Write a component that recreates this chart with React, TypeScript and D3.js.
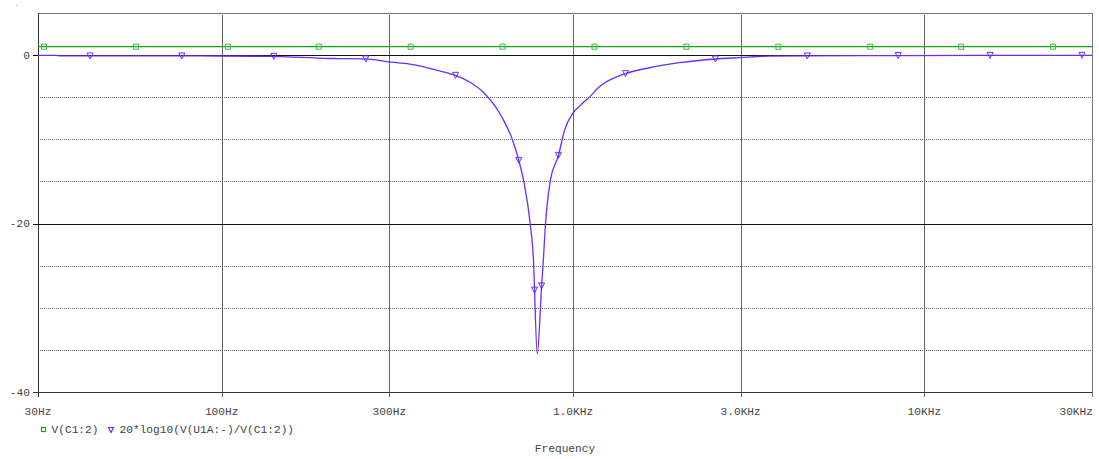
import React from "react";
import * as d3 from "d3";

const xTickValues = [30, 100, 300, 1000, 3000, 10000, 30000];
const xTickLabels = ["30Hz", "100Hz", "300Hz", "1.0KHz", "3.0KHz", "10KHz", "30KHz"];
const yTickValues = [0, -20, -40];
const yTickLabels = ["0", "-20", "-40"];
const yDottedGrid = [-5, -10, -15, -25, -30, -35];

// V(C1:2) — flat ~1V
const greenFreq = [30, 30000];
const greenVal = [1, 1];
const greenMarkerFreq = [31.2, 57, 104.1, 188.9, 345, 630, 1151, 2102, 3840, 7012, 12724, 23239];

// 20*log10(V(U1A:-)/V(C1:2))
const notchFreq = [30, 33.5, 35, 86.6, 137, 203, 257, 299, 343, 417, 463, 508, 560, 630, 673, 701, 724, 755, 773, 777, 791, 814, 821, 835, 861, 909, 946, 999, 1050, 1114, 1189, 1410, 1650, 2008, 2542, 2974, 3618, 4644, 8478, 15000, 30000];
const notchDb = [-0.02, -0.04, -0.1, -0.1, -0.15, -0.4, -0.45, -0.8, -1.07, -1.86, -2.4, -3.2, -4.56, -7.5, -10.1, -12.5, -15, -20, -25.1, -27.9, -35.5, -27.4, -25.1, -20, -15, -11.9, -8.9, -6.9, -5.95, -4.96, -3.76, -2.2, -1.5, -0.9, -0.46, -0.3, -0.12, -0.1, -0.05, -0.03, -0.02];
const notchMarkerFreq = [42.2, 77, 140.7, 257, 463, 701, 777, 814, 909, 1410, 2542, 4644, 8423, 15386, 28095];
const notchMarkerDb = [-0.1, -0.1, -0.15, -0.45, -2.4, -12.5, -27.9, -27.4, -11.9, -2.2, -0.46, -0.1, -0.05, -0.03, -0.02];

const W = 1099;
const H = 459;
const L = 38, R = 1092, T = 13, B = 392;
const FONT = "'Liberation Mono', 'DejaVu Sans Mono', monospace";
const FS = 11.2;
const GREEN = "#1c9e1c";
const GREEN_M = "#3cbf3c";
const PURPLE = "#6a2cff";

export default function App() {
  const x = d3.scaleLog().domain([30, 30000]).range([L, R]);
  const y = d3.scaleLinear().domain([-40, 5]).range([B, T]);

  const greenLine = d3.line<number>().x((d, i) => x(greenFreq[i])).y((d) => y(d))(greenVal) || "";
  const notchLine = d3.line<number>().x((d, i) => x(notchFreq[i])).y((d) => y(d)).curve(d3.curveMonotoneX)(notchDb) || "";
  const tri = "M-3,-3L3,-3L0,3Z";

  return (
    <svg width={W} height={H} style={{ position: "absolute", left: 0, top: 0, background: "#fff" }} fontFamily={FONT}>
      <rect x={16} y={5} width={2} height={1} fill="#c9b3ff" />
      {/* dotted grid */}
      {yDottedGrid.map((v) => (
        <line key={"d" + v} x1={L} x2={R} y1={Math.round(y(v)) + 0.5} y2={Math.round(y(v)) + 0.5} stroke="#666" strokeDasharray="1 1" strokeWidth={1} />
      ))}
      {/* vertical grid */}
      {xTickValues.slice(1, -1).map((v) => (
        <line key={"v" + v} x1={Math.round(x(v)) + 0.5} x2={Math.round(x(v)) + 0.5} y1={T + 2} y2={B + 5} stroke="#666" strokeWidth={1} />
      ))}
      {/* frame */}
      <line x1={L} x2={R} y1={T + 0.5} y2={T + 0.5} stroke="#777" />
      <line x1={R + 0.5} x2={R + 0.5} y1={T} y2={B + 5} stroke="#777" />
      <line x1={L + 0.5} x2={L + 0.5} y1={T} y2={B + 5} stroke="#333" />
      {/* solid horizontal grid */}
      {yTickValues.map((v) => (
        <line key={"h" + v} x1={L - 5} x2={R} y1={Math.round(y(v)) + 0.5} y2={Math.round(y(v)) + 0.5} stroke={v === -40 ? "#333" : "#111"} strokeWidth={1} />
      ))}
      {/* y labels */}
      {yTickValues.map((v, i) => (
        <text key={"yl" + v} x={30} y={y(v)} dy="0.35em" textAnchor="end" fontSize={FS} fill="#444">{yTickLabels[i]}</text>
      ))}
      {/* x labels */}
      {xTickValues.map((v, i) => (
        <text key={"xl" + v} x={i === xTickValues.length - 1 ? x(v) + 1 : x(v)} y={415} textAnchor={i === xTickValues.length - 1 ? "end" : "middle"} fontSize={FS} fill="#444">{xTickLabels[i]}</text>
      ))}
      {/* green series */}
      <path d={greenLine} fill="none" stroke={GREEN} strokeWidth={1.2} />
      {greenMarkerFreq.map((f) => (
        <rect key={"g" + f} x={x(f) - 2.5} y={y(1) - 2.5} width={5} height={5} fill="none" stroke={GREEN_M} strokeWidth={1} />
      ))}
      {/* purple series */}
      <path d={notchLine} fill="none" stroke={PURPLE} strokeWidth={1.3} />
      {notchMarkerFreq.map((f, i) => (
        <path key={"p" + f} d={tri} transform={`translate(${x(f)},${y(notchMarkerDb[i])})`} fill="none" stroke={PURPLE} strokeWidth={1} />
      ))}
      {/* legend */}
      <rect x={41.5} y={427.5} width={4} height={4} fill="none" stroke={GREEN} strokeWidth={1.2} />
      <text x={51.5} y={433} fontSize={FS} fill="#444">V(C1:2)</text>
      <path d="M108.5,427.5L113.5,427.5L111,432.5Z" fill="none" stroke={PURPLE} strokeWidth={1.2} />
      <text x={119.5} y={433} fontSize={FS} fill="#444">20*log10(V(U1A:-)/V(C1:2))</text>
      <text x={565} y={452} textAnchor="middle" fontSize={FS} fill="#444">Frequency</text>
    </svg>
  );
}
